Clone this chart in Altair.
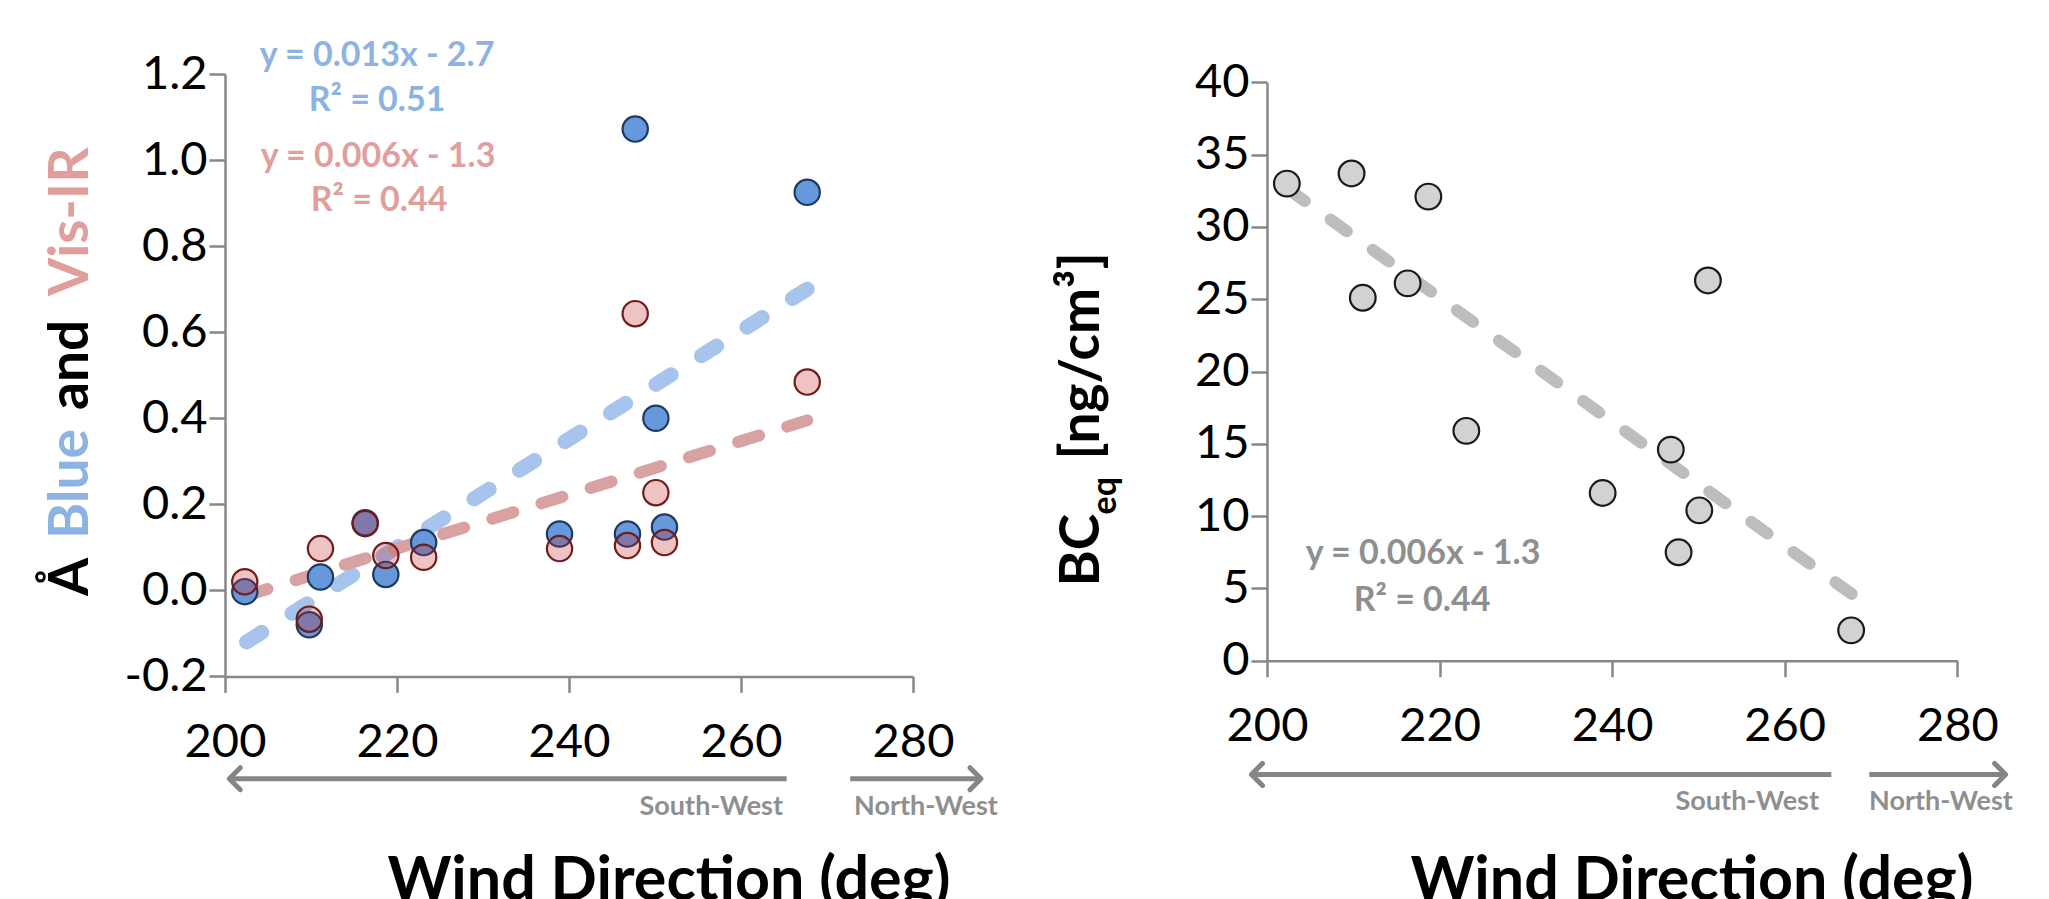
import altair as alt
import pandas as pd

# ---------------- data ----------------
wind_dir = [202.3, 209.8, 211.1, 216.3, 218.7, 223.1, 238.9, 246.8, 247.7, 250.1, 251.1, 267.7]
angstrom_blue = [-0.003, -0.080, 0.031, 0.157, 0.037, 0.111, 0.131, 0.131, 1.072, 0.400, 0.147, 0.925]
angstrom_visir = [0.020, -0.067, 0.097, 0.155, 0.081, 0.077, 0.097, 0.104, 0.643, 0.227, 0.111, 0.484]
bc_eq = [33.0, 33.7, 25.1, 26.1, 32.1, 15.9, 11.6, 14.6, 7.5, 10.4, 26.3, 2.1]

fit_x = [202.5, 267.7]
blue_fit_y = [-0.12, 0.70]
visir_fit_y = [-0.012, 0.395]
bc_fit_x = [202.5, 267.8]
bc_fit_y = [32.6, 4.6]

x_ticks = [200, 220, 240, 260, 280]
left_y_ticks = [-0.2, 0.0, 0.2, 0.4, 0.6, 0.8, 1.0, 1.2]
right_y_ticks = [0, 5, 10, 15, 20, 25, 30, 35, 40]

# direction arrows (in wind-direction units): [start, end]
sw_arrow_left = [200.5, 265.3]
nw_arrow_left = [272.7, 287.9]
sw_arrow_right = [198.2, 265.4]
nw_arrow_right = [269.8, 285.6]

blue_eq = ["y = 0.013x - 2.7", "R² = 0.51"]
visir_eq = ["y = 0.006x - 1.3", "R² = 0.44"]
bc_eq_text = ["y = 0.006x - 1.3", "R² = 0.44"]
left_title_parts = ["Å", "Blue", "and", "Vis-IR"]
right_title_parts = ["BC", "eq", "[ng/cm³]"]
x_title = "Wind Direc\u200ction (deg)"
dir_labels = ["South-West", "North-West"]

# ---------------- styling ----------------
FONT = "Lato"
AXIS_GRAY = "#878787"
BLUE_TXT = "#8db3e2"
RED_TXT = "#e09f9d"
GRAY_TXT = "#8f8f8f"
ARROW_GRAY = "#858585"
TICK_FS = 47

axis_common = dict(domainColor=AXIS_GRAY, domainWidth=2.5, tickColor=AXIS_GRAY,
                   tickWidth=2.5, tickSize=16, labelFont=FONT, labelFontSize=TICK_FS,
                   labelColor="black", grid=False, title=None, labelFlush=False)

one = alt.Data(values=[{"a": 1}])


def text_layer(txt, x, y, color, size, weight="bold", align="center",
               baseline="middle", angle=0):
    return alt.Chart(one).mark_text(
        text=txt, font=FONT, fontSize=size, fontWeight=weight, color=color,
        align=align, baseline=baseline, angle=angle
    ).encode(x=alt.value(x), y=alt.value(y))


def anchor(x, y):
    return alt.Chart(one).mark_rule(opacity=0, strokeWidth=1).encode(
        x=alt.value(x), y=alt.value(y), y2=alt.value(y + 1))


def arrow_layers(X, sw, nw, y):
    sw_df = pd.DataFrame({"x": [sw[0]], "x2": [sw[1]]})
    nw_df = pd.DataFrame({"x": [nw[0]], "x2": [nw[1]]})
    line_sw = alt.Chart(sw_df).mark_rule(color=ARROW_GRAY, strokeWidth=5).encode(
        x=X, x2="x2:Q", y=alt.value(y))
    line_nw = alt.Chart(nw_df).mark_rule(color=ARROW_GRAY, strokeWidth=5).encode(
        x=X, x2="x2:Q", y=alt.value(y))
    head_sw = alt.Chart(sw_df).mark_point(
        shape="M1,-1L0,0L1,1", size=484, filled=False, stroke=ARROW_GRAY,
        strokeWidth=5, strokeCap="round", strokeJoin="round", opacity=1
    ).encode(x=X, y=alt.value(y))
    nw_head_df = pd.DataFrame({"x": [nw[1]]})
    head_nw = alt.Chart(nw_head_df).mark_point(
        shape="M-1,-1L0,0L-1,1", size=484, filled=False, stroke=ARROW_GRAY,
        strokeWidth=5, strokeCap="round", strokeJoin="round", opacity=1
    ).encode(x=X, y=alt.value(y))
    return [line_sw, line_nw, head_sw, head_nw]


TOP = -65.3   # both panels share the same origin row; anchors fix the page top

# ---------------- left panel ----------------
LW, LH = 688, 602.4
x_scale = alt.Scale(domain=[200, 280], nice=False, zero=False)
XL = alt.X("x:Q", scale=x_scale,
           axis=alt.Axis(values=x_ticks, labelPadding=27, format="d", **axis_common))
yl_scale = alt.Scale(domain=[-0.2, 1.2], nice=False, zero=False)
yl_axis = alt.Axis(values=left_y_ticks, labelPadding=2,
                   labelExpr="replace(format(datum.value, '.1f'), '\u2212', '-')",
                   **axis_common)

df_left = pd.DataFrame({"x": wind_dir, "blue": angstrom_blue, "visir": angstrom_visir})
df_fit = pd.DataFrame({"x": fit_x, "blue": blue_fit_y, "visir": visir_fit_y})

blue_line = alt.Chart(df_fit).mark_line(
    color="#a6c4ec", strokeWidth=15, strokeDash=[18, 35.75], strokeCap="round"
).encode(x=XL, y=alt.Y("blue:Q", scale=yl_scale, axis=yl_axis))
red_line = alt.Chart(df_fit).mark_line(
    color="#d9a2a2", strokeWidth=12, strokeDash=[22, 29.5], strokeCap="round"
).encode(x=XL, y=alt.Y("visir:Q", scale=yl_scale, axis=yl_axis))
blue_pts = alt.Chart(df_left).mark_point(
    shape="circle", filled=True, size=640, fill="#6698db", stroke="#1f3a60",
    strokeWidth=2.2, opacity=1
).encode(x=XL, y=alt.Y("blue:Q", scale=yl_scale, axis=yl_axis))
red_pts = alt.Chart(df_left).mark_point(
    shape="circle", filled=True, size=640, fill="#c42828", fillOpacity=0.28,
    stroke="#6e1c1c", strokeWidth=2.2, strokeOpacity=1, opacity=1
).encode(x=XL, y=alt.Y("visir:Q", scale=yl_scale, axis=yl_axis))

left_layers = [
    anchor(-217, TOP), anchor(790, TOP),
    blue_line, red_line, blue_pts, red_pts,
    text_layer(blue_eq[0], 152, -17.8, BLUE_TXT, 34),
    text_layer(blue_eq[1], 152, 26.7, BLUE_TXT, 34),
    text_layer(visir_eq[0], 153, 82.7, RED_TXT, 34),
    text_layer(visir_eq[1], 154, 126.7, RED_TXT, 34),
    text_layer(left_title_parts[0], -137, 522, "black", 55, align="left",
               baseline="alphabetic", angle=270),
    text_layer(left_title_parts[1], -137, 465, BLUE_TXT, 55, align="left",
               baseline="alphabetic", angle=270),
    text_layer(left_title_parts[2], -137, 336, "black", 55, align="left",
               baseline="alphabetic", angle=270),
    text_layer(left_title_parts[3], -137, 222, RED_TXT, 55, align="left",
               baseline="alphabetic", angle=270),
    text_layer(dir_labels[0], 558, 732.7, GRAY_TXT, 27, align="right"),
    text_layer(dir_labels[1], 629, 732.7, GRAY_TXT, 27, align="left"),
    text_layer(x_title, 444, 825.7, "black", 61, baseline="alphabetic"),
] + arrow_layers(XL, sw_arrow_left, nw_arrow_left, 704.7)

left = alt.layer(*left_layers).properties(width=LW, height=LH)

# ---------------- right panel ----------------
# plot origin sits 8.4px above the 40 tick so that both panels share one row origin
RW, RH = 690.3, 586.7
R_OFF = 8.4
XR = alt.X("x:Q", scale=x_scale,
           axis=alt.Axis(values=x_ticks, labelPadding=27, format="d", **axis_common))
yr_scale = alt.Scale(domain=[0, 40], nice=False, zero=False, range=[RH, R_OFF])
yr_axis = alt.Axis(values=right_y_ticks, labelPadding=2, **axis_common)

df_right = pd.DataFrame({"x": wind_dir, "bc": bc_eq})
df_bc_fit = pd.DataFrame({"x": bc_fit_x, "bc": bc_fit_y})

gray_line = alt.Chart(df_bc_fit).mark_line(
    color="#bdbdbd", strokeWidth=12, strokeDash=[20, 31.8], strokeCap="round"
).encode(x=XR, y=alt.Y("bc:Q", scale=yr_scale, axis=yr_axis))
gray_pts = alt.Chart(df_right).mark_point(
    shape="circle", filled=True, size=660, fill="#d2d2d2", stroke="#1a1a1a",
    strokeWidth=2.2, opacity=1
).encode(x=XR, y=alt.Y("bc:Q", scale=yr_scale, axis=yr_axis))

right_layers = [
    anchor(-251.7, TOP),
    gray_line, gray_pts,
    text_layer(bc_eq_text[0], 156, 472 + R_OFF, GRAY_TXT, 34),
    text_layer(bc_eq_text[1], 155, 519 + R_OFF, GRAY_TXT, 34),
    text_layer(right_title_parts[0], -167.7, 504 + R_OFF, "black", 55, align="left",
               baseline="alphabetic", angle=270),
    text_layer(right_title_parts[1], -150.7, 432 + R_OFF, "black", 34, align="left",
               baseline="alphabetic", angle=270),
    text_layer(right_title_parts[2], -167.7, 377 + R_OFF, "black", 55, align="left",
               baseline="alphabetic", angle=270),
    text_layer(dir_labels[0], 552, 720 + R_OFF, GRAY_TXT, 27, align="right"),
    text_layer(dir_labels[1], 602, 720 + R_OFF, GRAY_TXT, 27, align="left"),
    text_layer(x_title, 425, 825.7, "black", 61, baseline="alphabetic"),
] + arrow_layers(XR, sw_arrow_right, nw_arrow_right, 692 + R_OFF)

right = alt.layer(*right_layers).properties(width=RW, height=RH)

chart = alt.hconcat(left, right, spacing=0).properties(
    padding=0, background="white"
).configure_view(stroke=None)

chart.save("out.html", embed_options={"renderer": "svg", "actions": False})
